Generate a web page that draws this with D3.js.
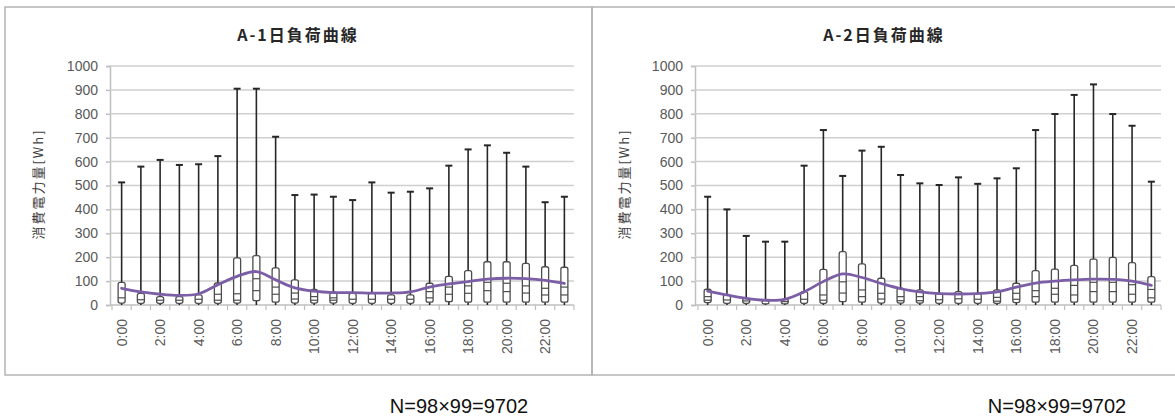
<!DOCTYPE html>
<html>
<head>
<meta charset="utf-8">
<script src="https://cdn.jsdelivr.net/npm/d3@7"></script>
<style>
  html, body { margin: 0; padding: 0; background: #fff; }
  svg { display: block; }
  text { font-family: "Liberation Sans", Arial, "Noto Sans CJK JP", sans-serif; }
  .cjk { font-family: "Noto Sans CJK JP", "Noto Sans CJK SC", sans-serif; }
</style>
</head>
<body>
<svg id="chart" width="1175" height="419"></svg>
<script>
// hour categories and the labels that are shown (every second hour)
const hours = d3.range(24).map(h => `${h}:00`);
const shownHours = hours.filter((h, i) => i % 2 === 0);
const yTicks = [0, 100, 200, 300, 400, 500, 600, 700, 800, 900, 1000];

// A-1: whisker max, box top, median, lower inner line, box bottom, mean line
const a1Max    = [513, 579, 607, 586, 589, 623, 905, 905, 704, 460, 462, 453, 439, 513, 470, 474, 488, 583, 651, 668, 637, 579, 430, 453];
const a1Upper  = [95, 49, 35, 35, 42, 92, 197, 207, 155, 105, 65, 55, 49, 49, 42, 42, 91, 120, 144, 181, 181, 174, 160, 158];
const a1Median = [30, 22, 20, 20, 24, 45, 47, 110, 75, 50, 35, 30, 24, 24, 24, 24, 56, 75, 80, 95, 91, 80, 70, 75];
const a1Q1     = [15, 12, 12, 12, 12, 20, 20, 60, 45, 25, 20, 20, 12, 12, 12, 12, 30, 45, 49, 60, 56, 50, 42, 42];
const a1Lower  = [8, 7, 7, 7, 7, 7, 8, 18, 12, 8, 8, 8, 7, 7, 7, 7, 12, 14, 12, 12, 12, 12, 12, 12];
const a1Mean   = [70, 55, 45, 40, 47, 85, 120, 140, 105, 72, 58, 52, 52, 50, 50, 55, 75, 88, 98, 108, 112, 110, 103, 90];

// A-2
const a2Max    = [453, 400, 289, 265, 265, 583, 732, 540, 646, 662, 544, 509, 502, 534, 507, 530, 572, 732, 799, 879, 923, 799, 750, 516];
const a2Upper  = [66, 42, 28, 18, 24, 56, 149, 223, 172, 112, 70, 63, 49, 56, 49, 63, 91, 144, 150, 166, 192, 199, 177, 119];
const a2Median = [35, 21, 17, 12, 14, 24, 42, 97, 63, 49, 35, 35, 22, 26, 24, 32, 49, 60, 70, 82, 95, 95, 85, 65];
const a2Q1     = [20, 12, 10, 8, 8, 12, 20, 50, 35, 25, 18, 18, 12, 14, 12, 16, 24, 35, 45, 42, 56, 56, 45, 30];
const a2Lower  = [10, 7, 7, 5, 5, 7, 7, 14, 12, 8, 8, 8, 7, 7, 7, 7, 10, 12, 12, 12, 12, 12, 12, 12];
const a2Mean   = [58, 42, 28, 20, 24, 55, 98, 130, 115, 90, 68, 55, 48, 46, 48, 55, 75, 92, 100, 105, 108, 107, 100, 82];

const svg = d3.select('#chart');

const panels = [
  { title: 'A-1日負荷曲線', x0: 5, width: 587, axisX: 110, plot: [112, 574], titleX: 298, yTitleX: 38, noteX: 459,
    max: a1Max, upper: a1Upper, median: a1Median, q1: a1Q1, lower: a1Lower, mean: a1Mean },
  { title: 'A-2日負荷曲線', x0: 592, width: 600, axisX: 695, plot: [698, 1161], titleX: 884, yTitleX: 624, noteX: 1057,
    max: a2Max, upper: a2Upper, median: a2Median, q1: a2Q1, lower: a2Lower, mean: a2Mean }
];

const plotTop = 66, plotBottom = 305;

panels.forEach(p => {
  const g = svg.append('g');

  // panel frame
  g.append('rect')
    .attr('x', p.x0).attr('y', 7)
    .attr('width', p.width).attr('height', 368)
    .attr('fill', 'none')
    .attr('stroke', '#b4b4b4')
    .attr('stroke-width', 1.5);

  const x = d3.scaleBand().domain(hours).range(p.plot).padding(0);
  const y = d3.scaleLinear().domain([0, 1000]).range([plotBottom, plotTop]);
  const cx = d => x(d) + x.bandwidth() / 2;

  // gridlines + y labels
  const yAxis = g.append('g')
    .attr('transform', `translate(${p.axisX},0)`)
    .call(d3.axisLeft(y).tickValues(yTicks).tickSize(4).tickPadding(8)
      .tickFormat(d3.format('d')));
  yAxis.select('.domain').attr('stroke', '#bfbfbf').attr('stroke-width', 1.5);
  yAxis.selectAll('.tick line').attr('stroke', '#bfbfbf').attr('stroke-width', 1.5);
  yAxis.selectAll('.tick text')
    .attr('fill', '#595959').style('font-size', '14px').style('font-family', '"Liberation Sans", Arial, sans-serif');

  g.append('g').selectAll('line.grid')
    .data(yTicks.filter(v => v > 0))
    .join('line')
    .attr('x1', p.axisX).attr('x2', p.plot[1])
    .attr('y1', d => y(d)).attr('y2', d => y(d))
    .attr('stroke', '#cfcfcf')
    .attr('stroke-width', 1.5);

  // x axis
  const xAxis = g.append('g')
    .attr('transform', `translate(0,${plotBottom})`)
    .call(d3.axisBottom(x).tickValues(shownHours).tickSize(0).tickPadding(0));
  xAxis.select('.domain').remove();
  xAxis.selectAll('.tick text')
    .attr('transform', 'rotate(-90)')
    .attr('x', -14).attr('y', 0).attr('dy', '0.35em')
    .attr('text-anchor', 'end')
    .attr('fill', '#595959')
    .style('font-size', '14px');

  g.append('line')
    .attr('x1', p.axisX).attr('x2', p.plot[1])
    .attr('y1', plotBottom).attr('y2', plotBottom)
    .attr('stroke', '#bfbfbf').attr('stroke-width', 1.5);
  g.append('g').selectAll('line')
    .data(hours.concat(['end']))
    .join('line')
    .attr('x1', d => d === 'end' ? p.plot[1] : x(d))
    .attr('x2', d => d === 'end' ? p.plot[1] : x(d))
    .attr('y1', plotBottom).attr('y2', plotBottom + 5)
    .attr('stroke', '#bfbfbf').attr('stroke-width', 1.2);

  const rows = hours.map((h, i) => ({
    h, max: p.max[i], upper: p.upper[i], median: p.median[i], q1: p.q1[i], lower: p.lower[i]
  }));

  // whiskers from 0 to max
  const marks = g.append('g');
  marks.selectAll('line.whisker')
    .data(rows).join('line')
    .attr('x1', d => cx(d.h)).attr('x2', d => cx(d.h))
    .attr('y1', y(0)).attr('y2', d => y(d.max))
    .attr('stroke', '#262626').attr('stroke-width', 1.6);
  marks.selectAll('line.cap')
    .data(rows).join('line')
    .attr('x1', d => cx(d.h) - 3.5).attr('x2', d => cx(d.h) + 3.5)
    .attr('y1', d => y(d.max)).attr('y2', d => y(d.max))
    .attr('stroke', '#262626').attr('stroke-width', 2);

  // boxes
  const boxW = 7;
  marks.selectAll('rect.box')
    .data(rows).join('rect')
    .attr('x', d => cx(d.h) - boxW / 2)
    .attr('y', d => y(d.upper))
    .attr('width', boxW)
    .attr('height', d => y(d.lower) - y(d.upper))
    .attr('rx', 2)
    .attr('fill', '#fff')
    .attr('stroke', '#4d4d4d')
    .attr('stroke-width', 1.3);
  ['median', 'q1'].forEach(k => {
    marks.selectAll(`line.${k}`)
      .data(rows.filter(d => y(d.lower) - y(d[k]) > 2 && y(d[k]) - y(d.upper) > 2))
      .join('line')
      .attr('x1', d => cx(d.h) - boxW / 2).attr('x2', d => cx(d.h) + boxW / 2)
      .attr('y1', d => y(d[k])).attr('y2', d => y(d[k]))
      .attr('stroke', '#4d4d4d').attr('stroke-width', 1.2);
  });

  // mean curve
  const line = d3.line()
    .x((d, i) => cx(hours[i]))
    .y(d => y(d))
    .curve(d3.curveCatmullRom.alpha(0.5));
  g.append('path')
    .datum(p.mean)
    .attr('d', line)
    .attr('fill', 'none')
    .attr('stroke', '#7b5ea6')
    .attr('stroke-width', 2.8)
    .attr('stroke-linecap', 'round');

  // titles
  g.append('text')
    .attr('class', 'cjk')
    .attr('x', p.titleX).attr('y', 41)
    .attr('text-anchor', 'middle')
    .attr('fill', '#262626')
    .style('font-size', '16px').style('font-weight', 'bold')
    .style('letter-spacing', '2px')
    .text(p.title);

  g.append('text')
    .attr('class', 'cjk')
    .attr('transform', `translate(${p.yTitleX},184) rotate(-90)`)
    .attr('text-anchor', 'middle')
    .attr('dy', '0.35em')
    .attr('fill', '#404040')
    .style('font-size', '13px')
    .style('letter-spacing', '2px')
    .text('消費電力量[Wh]');

  svg.append('text')
    .attr('x', p.noteX).attr('y', 413)
    .attr('text-anchor', 'middle')
    .attr('fill', '#111')
    .style('font-size', '20px')
    .style('font-family', '"Liberation Sans Narrow", "Liberation Sans", Arial, sans-serif')
    .text('N=98×99=9702');
});
</script>
</body>
</html>
